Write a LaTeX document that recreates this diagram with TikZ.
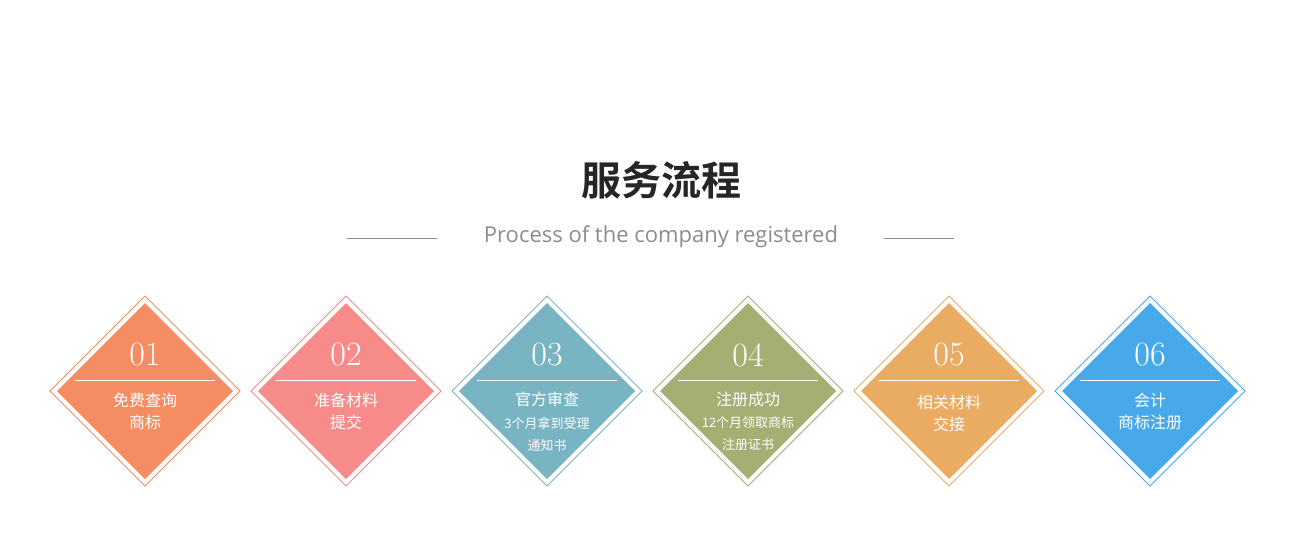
\documentclass[tikz,border=0pt]{standalone}
\usepackage{fontspec}
\setmainfont{Open Sans}
\newfontfamily\cjk{Noto Sans CJK SC}
\newfontfamily\cjkb{Noto Sans CJK SC Bold}
\newfontfamily\numf{Latin Modern Roman}
\definecolor{c1}{HTML}{F68C62}
\definecolor{c2}{HTML}{F68B8A}
\definecolor{c3}{HTML}{78B4C1}
\definecolor{c4}{HTML}{A5AE73}
\definecolor{c5}{HTML}{EAAB63}
\definecolor{c6}{HTML}{47A9E9}
\begin{document}
\begin{tikzpicture}[x=1pt,y=-1pt,
  num/.style={text=white,font=\numf\fontsize{34}{34}\selectfont},
  lab/.style={text=white,font=\cjk\fontsize{16}{22}\selectfont,align=center},
  sml/.style={text=white,font=\cjk\fontsize{13}{22}\selectfont,align=center}]
\useasboundingbox (0,0) rectangle (1300,544);
\node[font=\cjkb\fontsize{40}{40}\selectfont,text=black!85] (title) at (661,180) {服务流程};
\node[font=\fontsize{22}{22}\selectfont,text=black!45] (sub) at (661,237) {Process of the company registered};
\draw[black!45,line width=0.6pt] (347,238) -- (437,238) (884,238) -- (954,238);
\foreach \i/\x/\c in {1/145/c1,2/346/c2,3/547/c3,4/748/c4,5/949/c5,6/1150/c6}{
  \draw[\c,line width=0.8pt] (\x,296) -- (\x+95,391) -- (\x,486) -- (\x-95,391) -- cycle;
  \fill[\c] (\x,303) -- (\x+88,391) -- (\x,479) -- (\x-88,391) -- cycle;
  \draw[white,line width=0.8pt] (\x-70,380.5) -- (\x+70,380.5);
  \node[num] (n\i) at (\x,355) {0\i};
}
\node[lab] (t1) at (145,411) {免费查询\\商标};
\node[lab] (t2) at (346,411) {准备材料\\提交};
\node[lab] at (547,399) {官方审查};
\node[sml] (t3) at (547,434) {3个月拿到受理\\通知书};
\node[lab] at (748,399) {注册成功};
\node[sml] (t4) at (748,434) {12个月领取商标\\注册证书};
\node[lab] (t5) at (949,413) {相关材料\\交接};
\node[lab] (t6) at (1150,411) {会计\\商标注册};
\end{tikzpicture}
\end{document}
